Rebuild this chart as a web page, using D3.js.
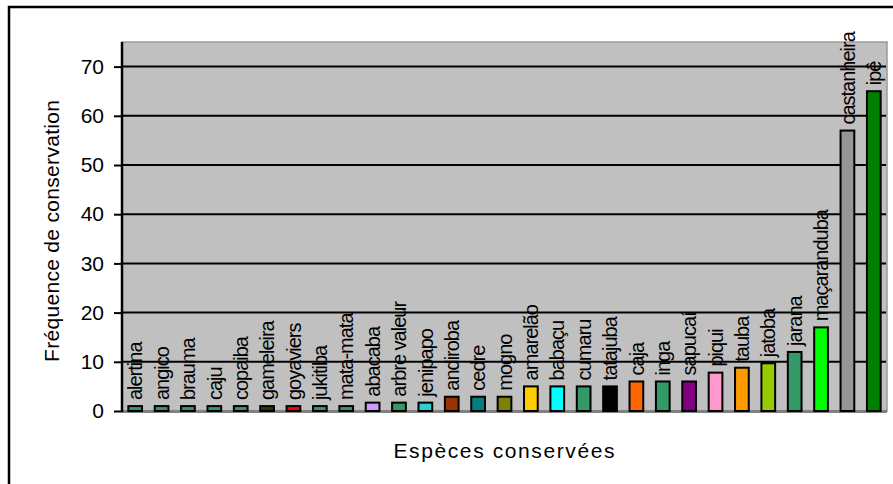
<!DOCTYPE html>
<html><head><meta charset="utf-8">
<script src="https://cdn.jsdelivr.net/npm/d3@7"></script>
<style>body{margin:0;background:#fff;} svg{display:block;}</style>
</head><body>
<svg id="c" width="893" height="484"></svg>
<script>
const categories = ["alertina","angico","brauma","caju","copaiba","gameleira","goyaviers","jukitiba","mata-mata","abacaba","arbre valeur","jenipapo","andiroba","cedre","mogno","amarelão","babaçu","cumaru","tatajuba","caja","inga","sapucaí","piqui","tauba","jatoba","jarana","maçaranduba","castanheira","ipê"];
const values = [1,1,1,1,1,1,1,1,1,1.7,1.7,1.7,2.9,2.9,2.9,5,5,5,5,6,6,6,7.8,8.8,9.7,12,17,57,65];
const colors = ["#339966","#339966","#339966","#339966","#339966","#333300","#FF0000","#339966","#339966","#CC99FF","#339966","#33CCCC","#993300","#008080","#808000","#FFCC00","#00FFFF","#339966","#000000","#FF6600","#339966","#800080","#FF99CC","#FF9900","#99CC00","#339966","#00FF00","#969696","#008000"];
const yTicks = [0,10,20,30,40,50,60,70];
const yTitle = "Fréquence de conservation";
const xTitle = "Espèces conservées";

const svg = d3.select("#c");
const L = 122, R = 887, T = 42, B = 411;
const FONT = "Liberation Sans, Arial, sans-serif";

// outer frame
svg.append("rect").attr("x",9).attr("y",7).attr("width",900).attr("height",490)
  .attr("fill","#fff").attr("stroke","#000").attr("stroke-width",2.5);

const x = d3.scaleBand().domain(categories).range([L, R]).paddingInner(0.48).paddingOuter(0.24);
const y = d3.scaleLinear().domain([0,75]).range([B, T]);

// plot area
svg.append("rect").attr("x",L).attr("y",T).attr("width",R-L).attr("height",B-T)
  .attr("fill","#C0C0C0").attr("stroke","#9a9a9a").attr("stroke-width",1.5);
svg.append("rect").attr("x",L).attr("y",B-1).attr("width",R-L).attr("height",3).attr("fill","#808080");

// gridlines
svg.append("g").selectAll("line").data(yTicks.filter(d=>d>0)).join("line")
  .attr("x1",L).attr("x2",R-1).attr("y1",d=>y(d)).attr("y2",d=>y(d))
  .attr("stroke","#000").attr("stroke-width",2);

// bars
svg.append("g").selectAll("rect").data(categories).join("rect")
  .attr("x",d=>x(d)).attr("width",x.bandwidth())
  .attr("y",(d,i)=>y(values[i])).attr("height",(d,i)=>B-y(values[i]))
  .attr("fill",(d,i)=>colors[i]).attr("stroke","#000").attr("stroke-width",2);

// bar labels
svg.append("g").selectAll("text").data(categories).join("text")
  .attr("transform",(d,i)=>`translate(${x(d)+x.bandwidth()/2},${y(values[i])-6}) rotate(-90)`)
  .attr("dy","0.36em").attr("text-anchor","start")
  .attr("font-family",FONT).attr("font-size",20).attr("letter-spacing","-1px").attr("fill","#000")
  .text(d=>d);

// y axis
const yAxis = d3.axisLeft(y).tickValues(yTicks).tickSize(8).tickPadding(10);
const ga = svg.append("g").attr("transform",`translate(${L},0)`).call(yAxis);
ga.select(".domain").attr("stroke","#000").attr("stroke-width",2.5).attr("d",`M0,${T}V${B+1}`);
ga.selectAll(".tick line").attr("stroke","#000").attr("stroke-width",2);
ga.selectAll(".tick text").attr("font-family",FONT).attr("font-size",21).attr("fill","#000");

// titles
svg.append("text").attr("transform",`translate(59,231) rotate(-90)`)
  .attr("text-anchor","middle").attr("font-family",FONT).attr("font-size",21)
  .attr("textLength",262).attr("lengthAdjust","spacing").text(yTitle);
svg.append("text").attr("x",504).attr("y",458)
  .attr("text-anchor","middle").attr("font-family",FONT).attr("font-size",21)
  .attr("textLength",221).attr("lengthAdjust","spacing").text(xTitle);
</script>
</body></html>
